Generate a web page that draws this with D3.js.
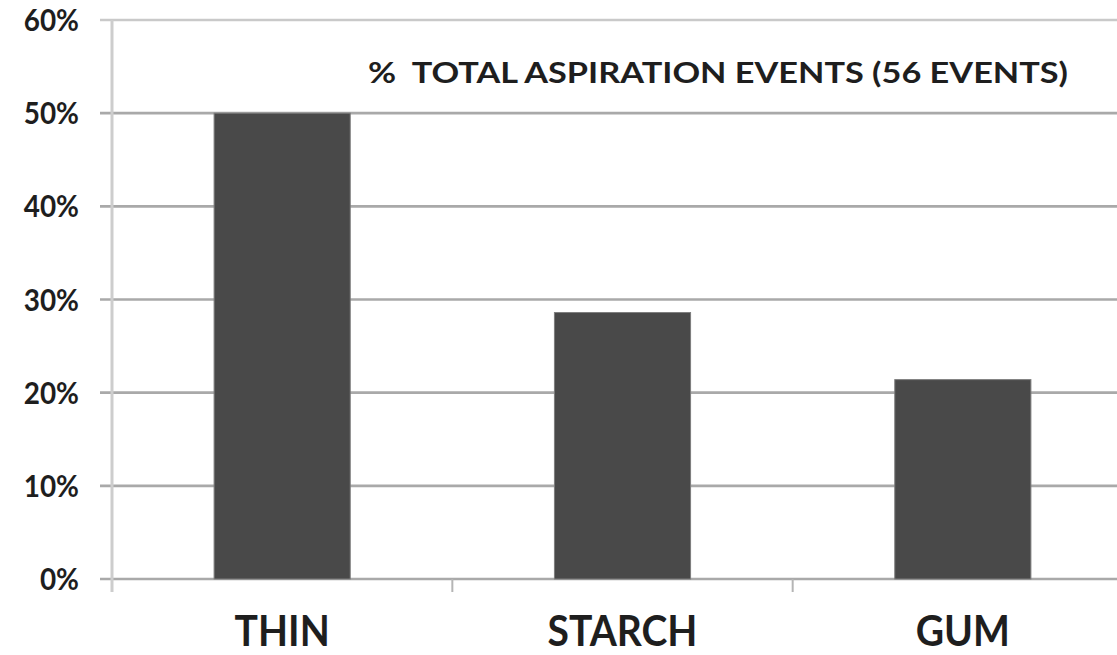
<!DOCTYPE html>
<html>
<head>
<meta charset="utf-8">
<script src="https://cdn.jsdelivr.net/npm/d3@7"></script>
<style>
  html, body { margin: 0; padding: 0; background: #ffffff; }
  svg { display: block; }
  text { font-family: Lato, "Open Sans", sans-serif; font-weight: bold; fill: #1e1e1e; }
</style>
</head>
<body>
<svg id="chart" width="1117" height="655"></svg>
<script>
// Share of all aspiration events by bolus type (56 events in total)
const categories = ["THIN", "STARCH", "GUM"];
const values = [50.0, 28.6, 21.4];
const tickValues = [0, 10, 20, 30, 40, 50, 60];
const tickLabels = ["0%", "10%", "20%", "30%", "40%", "50%", "60%"];
const title = "%  TOTAL ASPIRATION EVENTS (56 EVENTS)";

const svg = d3.select("#chart");
const W = 1117, H = 655;
const plot = { left: 112, right: 1133, top: 20, bottom: 579 };

const y = d3.scaleLinear().domain([0, 60]).range([plot.bottom, plot.top]);
const x = d3.scaleBand()
  .domain(categories)
  .range([plot.left, plot.right])
  .paddingInner(0.6)
  .paddingOuter(0.3);

// horizontal gridlines, running slightly left of the axis as ticks
svg.append("g")
  .selectAll("line")
  .data(tickValues)
  .join("line")
  .attr("x1", plot.left - 12)
  .attr("x2", W)
  .attr("y1", d => y(d))
  .attr("y2", d => y(d))
  .attr("stroke", d => d === 60 ? "#c9c9c9" : "#a9a9a9")
  .attr("stroke-width", 2.6);

// vertical value axis
svg.append("line")
  .attr("x1", plot.left).attr("x2", plot.left)
  .attr("y1", y(60)).attr("y2", plot.bottom + 13)
  .attr("stroke", "#cdcdcd")
  .attr("stroke-width", 3);

// category separator ticks below the baseline
const step = x.step();
svg.append("g")
  .selectAll("line")
  .data(d3.range(1, categories.length))
  .join("line")
  .attr("x1", d => plot.left + d * step)
  .attr("x2", d => plot.left + d * step)
  .attr("y1", plot.bottom)
  .attr("y2", plot.bottom + 13)
  .attr("stroke", "#b5b5b5")
  .attr("stroke-width", 2);

// bars
svg.append("g")
  .selectAll("rect")
  .data(categories.map((c, i) => ({ c, v: values[i] })))
  .join("rect")
  .attr("x", d => x(d.c))
  .attr("width", x.bandwidth())
  .attr("y", d => y(d.v))
  .attr("height", d => y(0) - y(d.v))
  .attr("fill", "#494949")
  .attr("stroke", "#7d7d7d")
  .attr("stroke-width", 1);

// value axis labels, slightly condensed
svg.append("g")
  .selectAll("text")
  .data(tickValues)
  .join("text")
  .attr("x", 79)
  .attr("y", d => y(d) + 11)
  .attr("text-anchor", "end")
  .attr("font-size", 31)
  .text((d, i) => tickLabels[i])
  .each(function () {
    const len = this.getComputedTextLength();
    d3.select(this).attr("textLength", len * 0.9).attr("lengthAdjust", "spacingAndGlyphs");
  });

// category labels, slightly condensed
svg.append("g")
  .selectAll("text")
  .data(categories)
  .join("text")
  .attr("x", d => x(d) + x.bandwidth() / 2)
  .attr("y", 646)
  .attr("text-anchor", "middle")
  .attr("font-size", 42)
  .text(d => d)
  .each(function () {
    const len = this.getComputedTextLength();
    d3.select(this).attr("textLength", len * 0.93).attr("lengthAdjust", "spacingAndGlyphs");
  });

// chart title (keeps the double space after the percent sign)
svg.append("text")
  .attr("x", 368)
  .attr("y", 83)
  .attr("font-size", 28)
  .style("white-space", "pre")
  .attr("textLength", 700)
  .attr("lengthAdjust", "spacingAndGlyphs")
  .text(title);
</script>
</body>
</html>
